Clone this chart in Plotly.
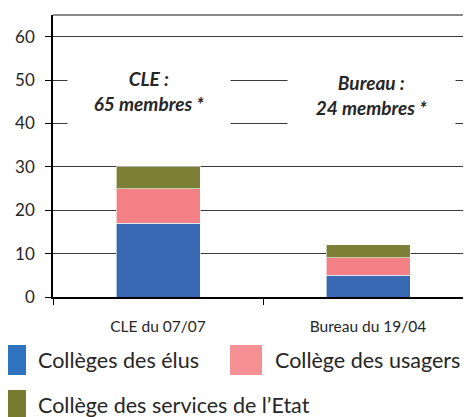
import plotly.graph_objects as go

categories = ["CLE du 07/07", "Bureau du 19/04"]
series_names = ["Collèges des élus", "Collège des usagers", "Collège des services de l’Etat"]
elus = [17, 5]
usagers = [8, 4]
etat = [5, 3]
colors = ["#3868B2", "#F38084", "#7C7F35"]
legend_colors = ["#2F72BE", "#F59094", "#777B30"]
box_texts = ["<b><i>CLE :<br>65 membres *</i></b>", "<b><i>Bureau :<br>24 membres *</i></b>"]

W, H = 471, 417
OFF = 8  # page body margin, positions below are given in window pixels
L, R, T, B = 53 - OFF, W - (473 - OFF), 15 - OFF, H - (297 - OFF)
R = max(R, 0)
font = "Lato, 'Noto Sans', sans-serif"
txt = "#262626"


def px_x(x):
    return (x - OFF - L) / (W - L - R)


def px_y(y):
    return (H - B - (y - OFF)) / (H - T - B)


fig = go.Figure()
for name, vals, col in zip(series_names, [elus, usagers, etat], colors):
    fig.add_trace(
        go.Bar(
            x=categories,
            y=vals,
            name=name,
            marker_color=col,
            marker_line=dict(color="rgba(255,255,255,0.6)", width=1),
            showlegend=False,
        )
    )

fig.update_layout(
    width=W,
    height=H,
    margin=dict(l=L, r=R, t=T, b=B),
    barmode="stack",
    bargap=0.6,
    plot_bgcolor="white",
    paper_bgcolor="white",
    font=dict(family=font, color=txt, size=15),
)

fig.update_xaxes(
    showline=True,
    linecolor="#000000",
    linewidth=1.5,
    ticks="outside",
    tickson="boundaries",
    ticklen=6,
    tickcolor="#000000",
    ticklabelstandoff=15,
    tickfont=dict(size=15.5),
)
fig.update_yaxes(
    range=[0, 65],
    tickvals=[0, 10, 20, 30, 40, 50, 60],
    showline=True,
    linecolor="#000000",
    linewidth=1.5,
    ticks="outside",
    ticklen=6,
    tickcolor="#000000",
    ticklabelstandoff=7,
    showgrid=True,
    gridcolor="#3a3a3a",
    gridwidth=1.2,
    tickfont=dict(size=17),
)

# top border of the plot area
fig.add_shape(type="line", xref="paper", yref="paper", x0=0, x1=1, y0=1, y1=1,
              line=dict(color="#888888", width=2))

# boxed labels over the gridlines
box_pos = [(68, 230, 91), (288, 455, 95)]
for t, (bx0, bx1, by) in zip(box_texts, box_pos):
    fig.add_annotation(
        x=px_x((bx0 + bx1) / 2), y=px_y(by), xref="paper", yref="paper",
        xanchor="center", yanchor="middle",
        text=t, showarrow=False,
        width=bx1 - bx0, height=80, borderpad=0,
        bgcolor="white",
        font=dict(size=19, color=txt),
    )

# legend
legend_pos = [(-10, 360, 26, 40), (230, 360, 262, 277), (-10, 405, 26, 40)]
for name, col, (sx0, cy, sx1, tx) in zip(series_names, legend_colors, legend_pos):
    fig.add_shape(type="rect", xref="paper", yref="paper",
                  x0=px_x(sx0), x1=px_x(sx1), y0=px_y(cy - 15), y1=px_y(cy + 15),
                  fillcolor=col, line_width=0)
    fig.add_annotation(x=px_x(tx - 4), y=px_y(cy), xref="paper", yref="paper",
                       text=name, showarrow=False, xanchor="left", yanchor="middle",
                       font=dict(size=21.5, color=txt))

fig.write_html("out.html")
